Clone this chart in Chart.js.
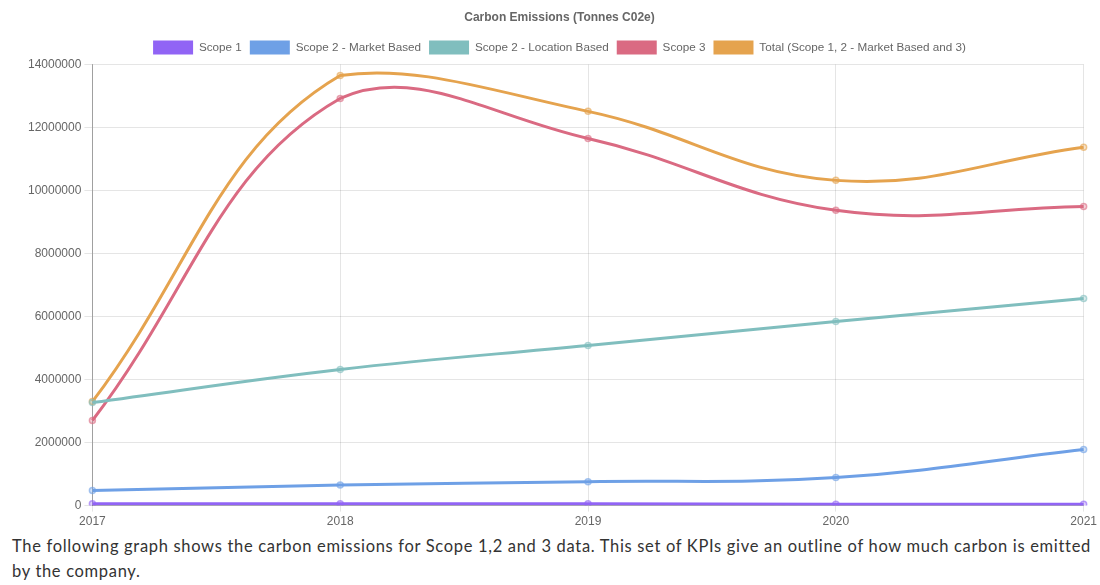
<!DOCTYPE html>
<html>
<head>
<meta charset="utf-8">
<script src="https://cdn.jsdelivr.net/npm/chart.js@4"></script>
<style>
  body { margin: 0; background: #fff; overflow: hidden; }
  #wrap { position: relative; width: 1100px; height: 532px; }
  p.note {
    margin: 2px 0 0 12px;
    font-family: Lato, "Open Sans", sans-serif;
    font-size: 16.5px;
    letter-spacing: 0.68px;
    line-height: 25px;
    color: #333;
    width: 1092px;
  }
</style>
</head>
<body>
<div id="wrap"><canvas id="myChart"></canvas></div>
<p class="note">The following graph shows the carbon emissions for Scope 1,2 and 3 data. This set of KPIs give an outline of how much carbon is emitted by the company.</p>

<script>
// år og verdier lest av grafen (tonn CO2e)
const years = ['2017', '2018', '2019', '2020', '2021'];
const scope1 = [60000, 60000, 55000, 40000, 40000];
const scope2Market = [480000, 650000, 760000, 890000, 1780000];
const scope2Location = [3270000, 4320000, 5080000, 5840000, 6570000];
const scope3 = [2700000, 12920000, 11650000, 9370000, 9490000];
const total = [3300000, 13650000, 12510000, 10320000, 11370000];

// farger per serie
const colours = {
    scope1: [145, 100, 245],
    market: [110, 160, 230],
    location: [128, 190, 190],
    scope3: [218, 106, 130],
    total: [229, 163, 78],
};

function rgba(c, a) {
    return `rgba(${c[0]}, ${c[1]}, ${c[2]}, ${a})`;
}

function lag(label, data, c) {
    return {
        label: label,
        data: data,
        borderColor: rgba(c, 1),
        backgroundColor: rgba(c, 1),
        pointBackgroundColor: rgba(c, 0.3),
        pointBorderColor: rgba(c, 0.6),
        pointRadius: 3,
        pointBorderWidth: 1.5,
        borderWidth: 3,
        tension: 0.4,
        fill: false,
    };
}

const ctx = document.getElementById('myChart').getContext('2d');
new Chart(ctx, {
    type: 'line',
    data: {
        labels: years,
        datasets: [
            lag('Scope 1', scope1, colours.scope1),
            lag('Scope 2 - Market Based', scope2Market, colours.market),
            lag('Scope 2 - Location Based', scope2Location, colours.location),
            lag('Scope 3', scope3, colours.scope3),
            lag('Total (Scope 1, 2 - Market Based and 3)', total, colours.total),
        ]
    },
    options: {
        responsive: true,
        maintainAspectRatio: false,
        animation: false,
        layout: { padding: { left: 25, right: 6, top: 0, bottom: 0 } },
        plugins: {
            title: {
                display: true,
                text: 'Carbon Emissions (Tonnes C02e)',
                color: '#666',
                font: { family: 'Liberation Sans, Arial, sans-serif', size: 12, weight: 'bold' },
                padding: { top: 10, bottom: 8 },
            },
            legend: {
                labels: {
                    color: '#666',
                    boxWidth: 40,
                    boxHeight: 14,
                    padding: 8,
                    font: { family: 'Liberation Sans, Arial, sans-serif', size: 11.7 },
                    generateLabels: function (chart) {
                        return chart.data.datasets.map((ds, i) => ({
                            text: ds.label,
                            fillStyle: ds.borderColor,
                            strokeStyle: ds.borderColor,
                            lineWidth: 0,
                            datasetIndex: i,
                            fontColor: '#666',
                        }));
                    },
                },
            },
        },
        scales: {
            x: {
                ticks: { color: '#666', font: { family: 'Liberation Sans, Arial, sans-serif', size: 12 }, maxRotation: 0 },
                grid: { color: 'rgba(0,0,0,0.1)', tickLength: 6 },
                border: { color: 'rgba(0,0,0,0.25)' },
            },
            y: {
                min: 0,
                max: 14000000,
                ticks: {
                    stepSize: 2000000,
                    color: '#666',
                    font: { family: 'Liberation Sans, Arial, sans-serif', size: 12 },
                    callback: v => String(v),
                },
                grid: { color: 'rgba(0,0,0,0.1)', tickLength: 8 },
                border: { color: 'rgba(0,0,0,0.3)' },
            },
        },
    },
});
</script>
</body>
</html>
